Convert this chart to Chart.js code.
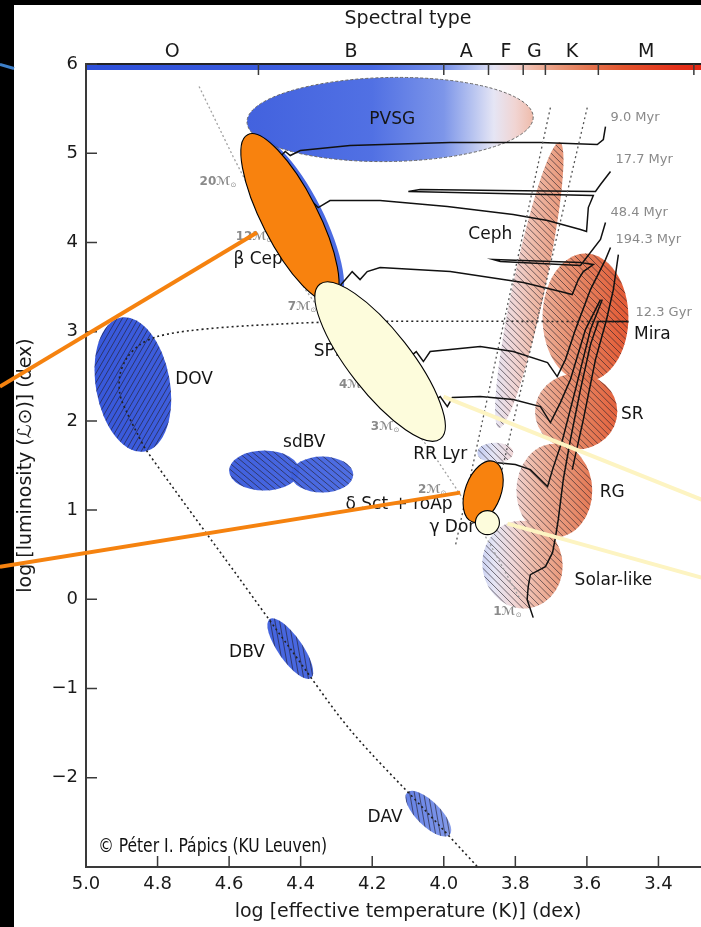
<!DOCTYPE html>
<html>
<head>
<meta charset="utf-8">
<script src="https://cdn.jsdelivr.net/npm/chart.js@4/dist/chart.umd.min.js"></script>
<style>
  html, body { margin: 0; padding: 0; background: #000; overflow: hidden; }
  canvas { display: block; }
</style>
</head>
<body>
<canvas id="hrd" width="760" height="927"></canvas>
<script>
// axes
const xTicks = [5.0, 4.8, 4.6, 4.4, 4.2, 4.0, 3.8, 3.6, 3.4];
const yTicks = [6, 5, 4, 3, 2, 1, 0, -1, -2];
const spectralClasses = ["O", "B", "A", "F", "G", "K", "M"];
const spectralEdges = [5.0, 4.518, 4.0, 3.875, 3.778, 3.716, 3.568, 3.301];

// evolutionary tracks [log Teff, log L]
const track20 = [[4.555,4.873],[4.499,4.929],[4.457,4.963],[4.443,5.019],[4.429,4.974],[4.401,5.030],[4.262,5.086],[3.982,5.120],[3.730,5.120],[3.571,5.098],[3.554,5.154],[3.548,5.299]];
const track12 = [[4.435,4.324],[4.401,4.369],[4.365,4.447],[4.351,4.391],[4.337,4.425],[4.318,4.470],[4.178,4.470],[3.990,4.402],[3.806,4.313],[3.710,4.246],[3.618,4.145],[3.601,4.122],[3.596,4.391],[3.582,4.526],[3.842,4.548],[4.099,4.571],[4.066,4.593],[3.842,4.582],[3.576,4.571],[3.562,4.649],[3.534,4.795]];
const track7 = [[4.304,3.450],[4.270,3.606],[4.256,3.673],[4.234,3.584],[4.214,3.673],[4.178,3.718],[3.982,3.673],[3.778,3.551],[3.674,3.450],[3.641,3.416],[3.624,3.584],[3.610,3.673],[3.582,3.752],[3.618,3.775],[3.862,3.808],[3.842,3.786],[3.618,3.741],[3.562,4.033],[3.548,4.223]];
const track4 = [[4.122,2.631],[4.094,2.721],[4.077,2.777],[4.057,2.665],[4.038,2.777],[3.898,2.833],[3.806,2.777],[3.710,2.653],[3.683,2.496],[3.660,2.687],[3.632,3.023],[3.590,3.472],[3.548,3.808],[3.534,3.943]];
const track3 = [[4.052,2.127],[4.029,2.216],[4.010,2.272],[3.990,2.160],[3.976,2.261],[3.898,2.272],[3.806,2.239],[3.730,2.160],[3.702,1.981],[3.674,2.205],[3.646,2.463],[3.604,3.023],[3.562,3.360]];
const track2 = [[3.850,1.532],[3.800,1.510],[3.758,1.454],[3.710,1.263],[3.696,1.454],[3.668,1.790],[3.632,2.351],[3.590,3.023],[3.557,3.360]];
const track1 = [[3.750,-0.205],[3.767,-0.003],[3.764,0.142],[3.758,0.277],[3.716,0.366],[3.696,0.523],[3.688,0.692],[3.680,0.893],[3.666,1.342],[3.646,1.790],[3.618,2.351],[3.590,2.855],[3.568,3.113],[3.484,3.113]];
const trackRgb = [[3.641,1.454],[3.610,2.015],[3.576,2.687],[3.545,3.136],[3.526,3.472],[3.512,3.864]];
const zams = [[4.684,5.748],[4.589,4.963],[4.491,4.201],[4.387,3.472],[4.276,2.855],[4.150,2.239],[4.038,1.678],[3.954,1.174],[3.870,0.613],[3.786,-0.003]];
const stripBlueEdge = [[3.702,5.512],[3.968,0.591]];
const stripRedEdge = [[3.599,5.512],[3.870,0.893]];
const wdTrack = [[3.484,3.113],[4.262,3.113],[4.541,3.068],[4.709,3.012],[4.801,2.945],[4.849,2.855],[4.885,2.710],[4.905,2.519],[4.905,2.295],[4.883,2.071],[4.855,1.846],[4.829,1.656],[4.575,0.254],[4.429,-0.553],[4.262,-1.461],[4.043,-2.403],[3.906,-2.997]];

// pulsator regions: centre, half-extent (dex), tilt (deg)
const regionNames = ["βCep-base", "PVSG", "DOV", "sdBV-a", "sdBV-b", "DBV", "DAV", "Ceph", "Mira", "SR", "RG", "Solar-like", "RR Lyr"];
const regionT = [4.418, 4.150, 4.869, 4.502, 4.340, 4.429, 4.043, 3.761, 3.604, 3.630, 3.691, 3.780, 3.856];
const regionL = [4.257, 5.378, 2.407, 1.443, 1.398, -0.553, -2.403, 3.522, 3.158, 2.104, 1.218, 0.389, 1.644];
const regionHalfT = [0.081, 0.400, 0.1035, 0.098, 0.087, 0.034, 0.034, 0.045, 0.120, 0.115, 0.106, 0.112, 0.050];
const regionHalfL = [1.054, 0.471, 0.762, 0.224, 0.202, 0.404, 0.336, 1.637, 0.717, 0.426, 0.527, 0.493, 0.112];
const regionTilt = [-27, -1, -10, 0, 0, -35, -45, 12, 0, 0, 0, -10, 0];

// highlighted classes drawn on top
const highlightNames = ["βCep", "SPB", "δSct", "γDor"];
const highlightT = [4.430, 4.178, 3.890, 3.878];
const highlightL = [4.279, 2.665, 1.207, 0.860];
const highlightHalfT = [0.078, 0.0867, 0.050, 0.0336];
const highlightHalfL = [1.043, 1.099, 0.359, 0.1345];
const highlightTilt = [-27, -38, 20, 0];

// pointer lines [from, to]
const orangePointers = [[[5.2406, 2.384], [4.522, 4.111]], [[5.2406, 0.366], [3.954, 1.196]]];
const ivoryPointers = [[[4.001, 2.272], [3.199, 0.988]], [[3.822, 0.849], [3.199, 0.153]]];
const slideStroke = [[5.2406, 5.994], [5.201, 5.950]];

// labels
const regionLabelText = ["PVSG", "Ceph", "Mira", "SR", "RG", "Solar-like", "RR Lyr", "DOV", "sdBV", "DBV", "DAV", "β Cep", "SPB", "δ Sct + roAp", "γ Dor"];
const regionLabelT = [4.144, 3.870, 3.417, 3.473, 3.529, 3.526, 4.010, 4.698, 4.390, 4.550, 4.164, 4.519, 4.318, 4.125, 3.976];
const regionLabelL = [5.378, 4.089, 2.967, 2.070, 1.196, 0.210, 1.622, 2.463, 1.757, -0.598, -2.448, 3.808, 2.777, 1.062, 0.804];
const massLabels = ["20", "12", "7", "4", "3", "2", "1"];
const massLabelT = [4.631, 4.530, 4.396, 4.253, 4.164, 4.032, 3.822];
const massLabelL = [4.683, 4.066, 3.281, 2.407, 1.936, 1.230, -0.138];
const ageLabels = ["9.0 Myr", "17.7 Myr", "48.4 Myr", "194.3 Myr", "12.3 Gyr"];
const ageLabelT = [3.534, 3.520, 3.534, 3.520, 3.464];
const ageLabelL = [5.400, 4.929, 4.335, 4.033, 3.214];
const creditText = "© Péter I. Pápics (KU Leuven)";
const creditPos = [4.966, -2.773];

const FONT = "'DejaVu Sans', sans-serif";
const AXIS = "#3a3a3a";
const specColors = [[5.0,'#2d4fd9'],[4.52,'#3a5bdd'],[4.2,'#4869e2'],[4.0,'#7690e8'],[3.92,'#b3c0ef'],[3.86,'#e4e4f4'],[3.8,'#f0d2d0'],[3.75,'#eeb8a6'],[3.68,'#e9987a'],[3.6,'#e47752'],[3.5,'#e2552e'],[3.35,'#e3311a'],[3.2,'#e41e0e']];
const hatchAngle = {"DOV": -60, "sdBV-a": 40, "sdBV-b": 40, "DBV": 80, "DAV": 80, "Ceph": 45, "Mira": 45, "SR": 45, "RG": 45, "Solar-like": 45, "RR Lyr": 45};
const highlightFill = {"βCep": "#f8820e", "SPB": "#fdfcdc", "δSct": "#f8820e", "γDor": "#fdfcdc"};

const pts = arr => arr.map(p => ({ x: p[0], y: p[1] }));
const line = (arr, color, width, dash, tension) => ({
  data: pts(arr), showLine: true, borderColor: color, borderWidth: width,
  borderDash: dash || [], pointRadius: 0, tension: tension || 0, fill: false
});

function specGradient(ctx, xs) {
  const p0 = xs.getPixelForValue(5.0), p1 = xs.getPixelForValue(3.2);
  const g = ctx.createLinearGradient(p0, 0, p1, 0);
  specColors.forEach(([t, c]) => g.addColorStop((xs.getPixelForValue(t) - p0) / (p1 - p0), c));
  return g;
}

function ellipse(ctx, xs, ys, t, l, ht, hl, tilt) {
  const cx = xs.getPixelForValue(t), cy = ys.getPixelForValue(l);
  const rx = Math.abs(xs.getPixelForValue(t - ht) - cx);
  const ry = Math.abs(ys.getPixelForValue(l + hl) - cy);
  ctx.beginPath();
  ctx.ellipse(cx, cy, rx, ry, tilt * Math.PI / 180, 0, Math.PI * 2);
  return { cx, cy, r: Math.max(rx, ry) * 1.5 };
}

function hatch(ctx, cx, cy, R, deg, gap) {
  const a = deg * Math.PI / 180, dx = Math.cos(a), dy = Math.sin(a);
  ctx.beginPath();
  for (let k = -R; k <= R; k += gap) {
    const px = cx - dy * k, py = cy + dx * k;
    ctx.moveTo(px - dx * R, py - dy * R);
    ctx.lineTo(px + dx * R, py + dy * R);
  }
  ctx.stroke();
}

const hrPlugin = {
  id: 'hr',
  beforeDraw(chart) {
    const ctx = chart.ctx;
    ctx.save();
    ctx.fillStyle = '#000';
    ctx.fillRect(0, 0, chart.width, chart.height);
    ctx.fillStyle = '#fff';
    ctx.fillRect(14, 5, chart.width, chart.height);
    ctx.restore();
  },
  beforeDatasetsDraw(chart) {
    const { ctx, chartArea: a, scales: { x, y } } = chart;
    const grad = specGradient(ctx, x);
    ctx.save();
    // spectral colour bar
    ctx.fillStyle = grad;
    ctx.fillRect(a.left + 1, a.top + 1, a.right - a.left, 5);
    ctx.beginPath();
    ctx.rect(a.left, a.top, a.right - a.left, a.bottom - a.top);
    ctx.clip();
    regionNames.forEach((name, i) => {
      const e = ellipse(ctx, x, y, regionT[i], regionL[i], regionHalfT[i], regionHalfL[i], regionTilt[i]);
      ctx.globalAlpha = 0.95;
      ctx.fillStyle = grad;
      ctx.fill();
      ctx.globalAlpha = 1;
      if (name === 'PVSG') {
        ctx.setLineDash([3, 2]);
        ctx.strokeStyle = '#666';
        ctx.lineWidth = 1;
        ctx.stroke();
        ctx.setLineDash([]);
      }
      if (hatchAngle[name] !== undefined) {
        ctx.save();
        ctx.clip();
        ctx.strokeStyle = 'rgba(35,30,40,0.62)';
        ctx.lineWidth = 1;
        hatch(ctx, e.cx, e.cy, e.r, hatchAngle[name], 4.6);
        ctx.restore();
      }
    });
    ctx.restore();
  },
  afterDatasetsDraw(chart) {
    const { ctx, chartArea: a, scales: { x, y } } = chart;
    const px = v => x.getPixelForValue(v), py = v => y.getPixelForValue(v);
    ctx.save();
    ctx.textBaseline = 'middle';

    // region labels
    ctx.fillStyle = '#151515';
    ctx.font = `17px ${FONT}`;
    ctx.textAlign = 'center';
    regionLabelText.forEach((t, i) => ctx.fillText(t, px(regionLabelT[i]), py(regionLabelL[i])));

    // mass labels
    ctx.fillStyle = '#8a8a8a';
    massLabels.forEach((m, i) => {
      ctx.font = `bold 12px ${FONT}`;
      const txt = m + 'ℳ';
      const w = ctx.measureText(txt).width;
      const cx = px(massLabelT[i]), cy = py(massLabelL[i]);
      ctx.textAlign = 'left';
      ctx.fillText(txt, cx - w / 2 - 3, cy);
      ctx.font = `7px ${FONT}`;
      ctx.fillText('⊙', cx + w / 2 - 3, cy + 4);
    });

    // age labels
    ctx.font = `13px ${FONT}`;
    ctx.textAlign = 'left';
    ageLabels.forEach((t, i) => ctx.fillText(t, px(ageLabelT[i]), py(ageLabelL[i])));

    // inward ticks
    ctx.strokeStyle = AXIS;
    ctx.lineWidth = 1.5;
    ctx.beginPath();
    yTicks.forEach(v => {
      ctx.moveTo(a.left, py(v)); ctx.lineTo(a.left + 11, py(v));
      ctx.moveTo(a.right, py(v)); ctx.lineTo(a.right - 11, py(v));
    });
    xTicks.forEach(v => { ctx.moveTo(px(v), a.bottom); ctx.lineTo(px(v), a.bottom - 11); });
    spectralEdges.slice(1).forEach(v => { ctx.moveTo(px(v), a.top); ctx.lineTo(px(v), a.top + 11); });
    ctx.stroke();

    // highlight pointers and ellipses
    ctx.lineCap = 'butt';
    ctx.lineWidth = 4;
    ctx.strokeStyle = '#f5820f';
    orangePointers.forEach(([p, q]) => {
      ctx.beginPath(); ctx.moveTo(px(p[0]), py(p[1])); ctx.lineTo(px(q[0]), py(q[1])); ctx.stroke();
    });
    ctx.strokeStyle = '#fdf4c2';
    ivoryPointers.forEach(([p, q]) => {
      ctx.beginPath(); ctx.moveTo(px(p[0]), py(p[1])); ctx.lineTo(px(q[0]), py(q[1])); ctx.stroke();
    });
    ctx.strokeStyle = '#3d7fc8';
    ctx.lineWidth = 3;
    ctx.beginPath();
    ctx.moveTo(px(slideStroke[0][0]), py(slideStroke[0][1]));
    ctx.lineTo(px(slideStroke[1][0]), py(slideStroke[1][1]));
    ctx.stroke();

    highlightNames.forEach((n, i) => {
      ellipse(ctx, x, y, highlightT[i], highlightL[i], highlightHalfT[i], highlightHalfL[i], highlightTilt[i]);
      ctx.fillStyle = highlightFill[n];
      ctx.fill();
      ctx.strokeStyle = '#000';
      ctx.lineWidth = 1.1;
      ctx.stroke();
    });

    // credit
    ctx.fillStyle = '#111';
    ctx.font = `20px 'Liberation Sans Narrow', 'DejaVu Sans Condensed', Roboto, sans-serif`;
    ctx.textAlign = 'left';
    ctx.fillText(creditText, px(creditPos[0]), py(creditPos[1]), 229);
    ctx.restore();
  }
};

const tickFont = { family: FONT, size: 18 };

new Chart(document.getElementById('hrd'), {
  type: 'scatter',
  data: {
    datasets: [
      line(zams, '#a0a0a0', 1.3, [2, 2.5]),
      line(stripBlueEdge, '#555', 1.3, [2, 3]),
      line(stripRedEdge, '#555', 1.3, [2, 3]),
      line(wdTrack, '#222', 1.6, [2, 3], 0.3),
      line(track20, '#111', 1.5),
      line(track12, '#111', 1.5),
      line(track7, '#111', 1.5),
      line(track4, '#111', 1.5),
      line(track3, '#111', 1.5),
      line(track2, '#111', 1.5),
      line(track1, '#111', 1.5),
      line(trackRgb, '#111', 1.5)
    ]
  },
  options: {
    responsive: false,
    animation: false,
    devicePixelRatio: 1,
    layout: { padding: { left: 0, top: 0, right: 30, bottom: 0 }, autoPadding: false },
    plugins: { legend: { display: false }, tooltip: { enabled: false } },
    scales: {
      x: {
        type: 'linear', position: 'bottom', reverse: true, min: 3.2, max: 5.0,
        afterBuildTicks: s => { s.ticks = xTicks.map(v => ({ value: v })); },
        afterFit: s => { s.height = 60; },
        grid: { display: false, drawTicks: false },
        border: { display: true, color: AXIS, width: 2 },
        ticks: { autoSkip: false, maxRotation: 0, padding: 7, color: '#1a1a1a', font: tickFont, callback: v => v.toFixed(1) },
        title: { display: true, text: 'log [effective temperature (K)] (dex)', color: '#1a1a1a', font: { family: FONT, size: 19 }, padding: { top: 0, bottom: 4 } }
      },
      x2: {
        type: 'linear', position: 'top', reverse: true, min: 3.2, max: 5.0,
        afterBuildTicks: s => {
          s.ticks = spectralClasses.map((c, i) => ({ value: (spectralEdges[i] + spectralEdges[i + 1]) / 2 }));
        },
        afterFit: s => { s.height = 64; },
        grid: { display: false, drawTicks: false },
        border: { display: true, color: '#222', width: 2 },
        ticks: { autoSkip: false, maxRotation: 0, padding: 1, color: '#1a1a1a', font: { family: FONT, size: 19 }, callback: (v, i) => spectralClasses[i] },
        title: { display: true, text: 'Spectral type', color: '#1a1a1a', font: { family: FONT, size: 19 }, padding: { top: 8, bottom: 0 } }
      },
      y: {
        type: 'linear', position: 'left', min: -3, max: 6,
        afterBuildTicks: s => { s.ticks = yTicks.map(v => ({ value: v })); },
        afterFit: s => { s.width = 86; },
        grid: { display: false, drawTicks: false },
        border: { display: true, color: AXIS, width: 2 },
        ticks: { autoSkip: false, padding: 8, color: '#1a1a1a', font: tickFont, callback: v => v < 0 ? '\u2212' + Math.abs(v) : String(v) },
        title: { display: true, text: 'log [luminosity (ℒ⊙)] (dex)', color: '#1a1a1a', font: { family: FONT, size: 19 }, padding: { top: 15, bottom: 0 } }
      },
      y2: {
        type: 'linear', position: 'right', min: -3, max: 6,
        afterFit: s => { s.width = 0; },
        grid: { display: false, drawTicks: false },
        border: { display: true, color: AXIS, width: 2 },
        ticks: { display: false }
      }
    }
  },
  plugins: [hrPlugin]
});
</script>
</body>
</html>
